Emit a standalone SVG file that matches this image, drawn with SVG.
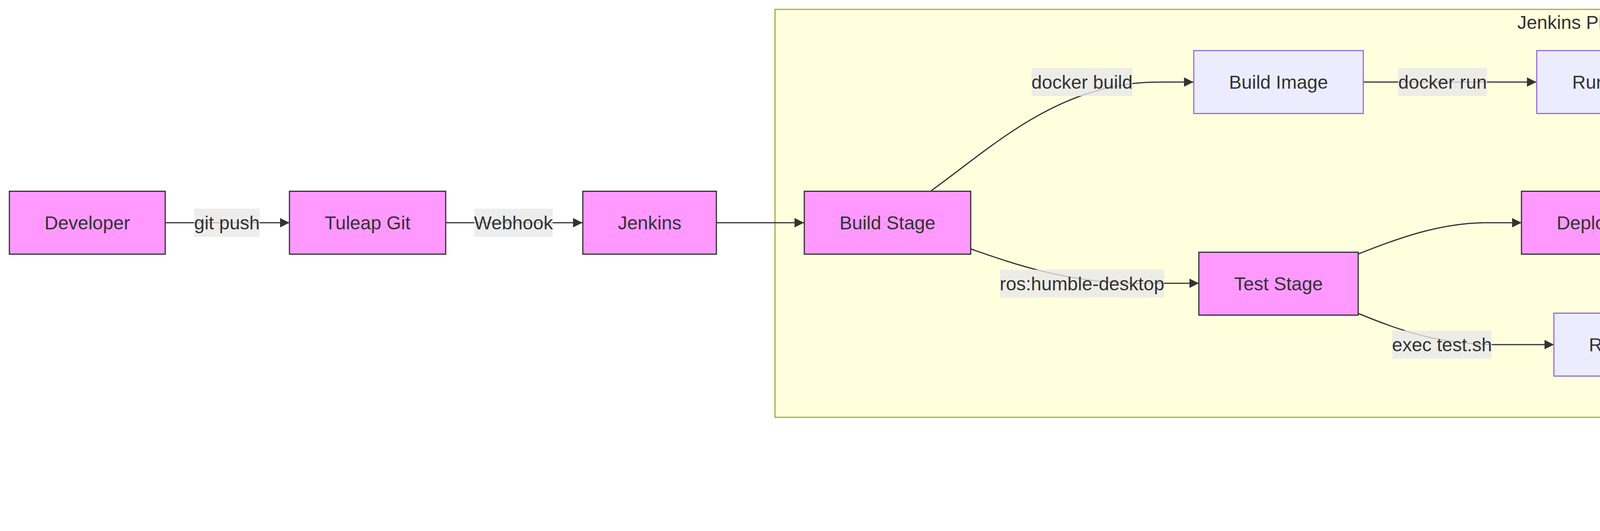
<svg xmlns="http://www.w3.org/2000/svg" width="6319" height="1359" viewBox="0 0 6319 1359">
<style>
  text { font-family: "Liberation Sans", Arial, sans-serif; font-size: 48px; fill: #333333; text-anchor: middle; }
  .pink { fill: #ff99ff; stroke: #333333; stroke-width: 3; }
  .blue { fill: #ececff; stroke: #9370db; stroke-width: 3; }
  .edge { fill: none; stroke: #333333; stroke-width: 3; marker-end: url(#arrow); }
  .lbl { fill: rgba(232,232,232,0.8); }
</style>
<defs>
  <marker id="arrow" viewBox="0 0 10 10" refX="10" refY="5" markerUnits="userSpaceOnUse" markerWidth="24" markerHeight="24" orient="auto">
    <path d="M0,0 L10,5 L0,10 z" fill="#333333"/>
  </marker>
</defs>
<rect width="6319" height="1359" fill="#ffffff"/>

<g id="cluster-jenkins-pipeline-stages">
  <rect x="1984" y="24" width="4310" height="1044" fill="#ffffde" stroke="#aaaa33" stroke-width="3"/>
  <text x="4139" y="74">Jenkins Pipeline Stages</text>
</g>

<g id="connectors">
  <path class="edge" d="M423,570 L741,570"/>
  <path class="edge" d="M1141,570 L1491,570"/>
  <path class="edge" d="M1834,570 L2058,570"/>
  <path class="edge" d="M2384,488 C2520,390 2660,260 2850,222 C2900,212 2930,210 2980,210 L3055,210"/>
  <path class="edge" d="M3490,210 L3933,210"/>
  <path class="edge" d="M4425,210 L5044,210"/>
  <path class="edge" d="M2485,637 C2580,670 2720,722 2900,725 L3069,725"/>
  <path class="edge" d="M3477,650 C3580,610 3680,572 3800,570 L3895,570"/>
  <path class="edge" d="M3477,802 C3580,845 3680,880 3820,882 L3978,882"/>
  <path class="edge" d="M4467,542 C4540,532 4600,524 4700,522 L4993,522"/>
  <path class="edge" d="M5525,522 L5770,522"/>
  <path class="edge" d="M4367,651 C4540,710 4760,850 5156,1172"/>
</g>

<g id="connector-labels">
  <g id="label-git-push"><rect class="lbl" x="497" y="534" width="168" height="72"/><text x="581" y="587">git push</text></g>
  <g id="label-webhook"><rect class="lbl" x="1214" y="534" width="201" height="72"/><text x="1314.5" y="587">Webhook</text></g>
  <g id="label-docker-build"><rect class="lbl" x="2641" y="174" width="258" height="72"/><text x="2770" y="227">docker build</text></g>
  <g id="label-docker-run"><rect class="lbl" x="3579" y="174" width="228" height="72"/><text x="3693" y="227">docker run</text></g>
  <g id="label-exec-build"><rect class="lbl" x="4541" y="174" width="279" height="72"/><text x="4680.5" y="227">exec build.sh</text></g>
  <g id="label-ros-humble"><rect class="lbl" x="2560" y="690" width="420" height="72"/><text x="2770" y="743">ros:humble-desktop</text></g>
  <g id="label-exec-test"><rect class="lbl" x="3564" y="846" width="255" height="72"/><text x="3691.5" y="899">exec test.sh</text></g>
  <g id="label-docker-push"><rect class="lbl" x="4551" y="486" width="261" height="72"/><text x="4681.5" y="539">docker push</text></g>
</g>

<g id="node-developer"><rect class="pink" x="24" y="489.5" width="399" height="161"/><text x="223.5" y="587">Developer</text></g>
<g id="node-tuleap-git"><rect class="pink" x="741" y="489.5" width="400" height="161"/><text x="941" y="587">Tuleap Git</text></g>
<g id="node-jenkins"><rect class="pink" x="1492" y="489.5" width="342" height="161"/><text x="1663" y="587">Jenkins</text></g>
<g id="node-build-stage"><rect class="pink" x="2059" y="489.5" width="426" height="161"/><text x="2272" y="587">Build Stage</text></g>
<g id="node-build-image"><rect class="blue" x="3056" y="129.5" width="434" height="161"/><text x="3273" y="227">Build Image</text></g>
<g id="node-run-container"><rect class="blue" x="3934" y="129.5" width="491" height="161"/><text x="4179.5" y="227">Run Container</text></g>
<g id="node-build-ros2"><rect class="blue" x="5044" y="129.5" width="430" height="161"/><text x="5259" y="227">Build ROS2</text></g>
<g id="node-test-stage"><rect class="pink" x="3069" y="645.5" width="408" height="161"/><text x="3273" y="743">Test Stage</text></g>
<g id="node-deploy-registry"><rect class="pink" x="3895" y="489.5" width="572" height="161"/><text x="4181" y="587">Deploy to Registry</text></g>
<g id="node-push-registry"><rect class="blue" x="4993" y="441.5" width="532" height="161"/><text x="5259" y="539">Push to Registry</text></g>
<g id="node-tag-latest"><rect class="blue" x="5770" y="441.5" width="450" height="161"/><text x="5995" y="539">Tag as latest</text></g>
<g id="node-run-gtest"><rect class="blue" x="3978" y="801.5" width="406" height="161"/><text x="4181" y="899">Run GTest</text></g>
<g id="node-running-ros2"><rect class="pink" x="4896" y="1173.5" width="725" height="161"/><text x="5258.5" y="1271">Running ROS2 Container</text></g>
</svg>
